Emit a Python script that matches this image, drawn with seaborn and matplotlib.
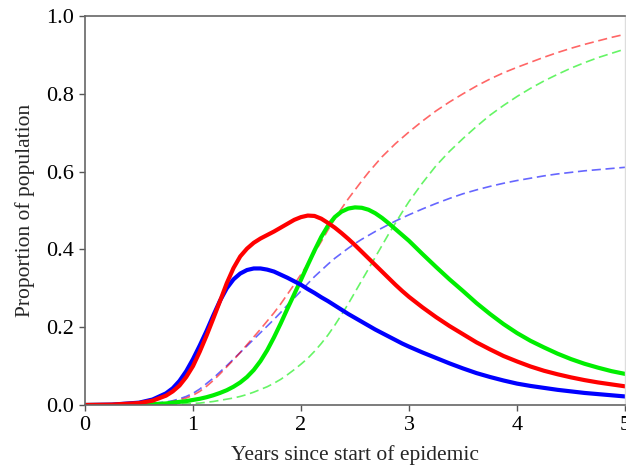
import matplotlib
matplotlib.use("Agg")
import matplotlib.pyplot as plt
import seaborn as sns

years = [0, 0.25, 0.5, 0.625, 0.75, 0.8125, 0.875, 0.9375, 1.0, 1.0625, 1.125, 1.1875,
         1.25, 1.3125, 1.375, 1.4375, 1.5, 1.5625, 1.625, 1.6875, 1.75, 1.8125, 1.875,
         1.9375, 2.0, 2.0625, 2.125, 2.1875, 2.25, 2.3125, 2.375, 2.4375, 2.5, 2.5625,
         2.625, 2.6875, 2.75, 2.8125, 2.875, 2.9375, 3.0, 3.125, 3.25, 3.375, 3.5, 3.625,
         3.75, 3.875, 4.0, 4.125, 4.25, 4.375, 4.5, 4.625, 4.75, 4.875, 5.0]

blue_solid = [0, 0.001, 0.006, 0.014, 0.03, 0.043, 0.062, 0.087, 0.118, 0.153, 0.19, 0.23,
              0.268, 0.30, 0.323, 0.338, 0.347, 0.351, 0.351, 0.348, 0.343, 0.335, 0.327,
              0.318, 0.309, 0.298, 0.288, 0.277, 0.267, 0.256, 0.245, 0.234, 0.224, 0.214,
              0.204, 0.194, 0.185, 0.176, 0.167, 0.158, 0.150, 0.135, 0.121, 0.107, 0.094,
              0.082, 0.072, 0.063, 0.055, 0.049, 0.044, 0.039, 0.035, 0.031, 0.028, 0.025,
              0.022]
red_solid = [0, 0.001, 0.005, 0.011, 0.024, 0.035, 0.05, 0.072, 0.10, 0.137, 0.178, 0.222,
             0.267, 0.313, 0.352, 0.382, 0.402, 0.417, 0.428, 0.437, 0.446, 0.456, 0.466,
             0.476, 0.483, 0.487, 0.486, 0.479, 0.468, 0.456, 0.442, 0.427, 0.411, 0.394,
             0.377, 0.36, 0.343, 0.326, 0.309, 0.293, 0.278, 0.251, 0.226, 0.203, 0.182,
             0.161, 0.143, 0.126, 0.112, 0.099, 0.088, 0.079, 0.071, 0.064, 0.058, 0.053,
             0.048]
green_solid = [0, 0, 0.001, 0.002, 0.004, 0.006, 0.008, 0.010, 0.013, 0.016, 0.02, 0.025,
               0.031, 0.038, 0.047, 0.058, 0.072, 0.09, 0.113, 0.141, 0.174, 0.21, 0.248,
               0.285, 0.322, 0.36, 0.397, 0.432, 0.461, 0.483, 0.497, 0.505, 0.508, 0.507,
               0.502, 0.493, 0.481, 0.467, 0.452, 0.437, 0.422, 0.388, 0.355, 0.323, 0.293,
               0.262, 0.234, 0.208, 0.185, 0.165, 0.148, 0.132, 0.118, 0.106, 0.096, 0.087,
               0.08]
blue_dashed = [0, 0, 0.002, 0.004, 0.008, 0.011, 0.016, 0.022, 0.03, 0.041, 0.055, 0.069,
               0.085, 0.101, 0.118, 0.135, 0.152, 0.169, 0.186, 0.203, 0.22, 0.238, 0.257,
               0.275, 0.293, 0.312, 0.33, 0.346, 0.362, 0.377, 0.39, 0.403, 0.415, 0.426,
               0.436, 0.446, 0.455, 0.464, 0.473, 0.481, 0.489, 0.504, 0.518, 0.531, 0.543,
               0.553, 0.562, 0.570, 0.577, 0.583, 0.589, 0.594, 0.598, 0.602, 0.605, 0.608,
               0.611]
red_dashed = [0, 0, 0.002, 0.003, 0.006, 0.009, 0.013, 0.018, 0.025, 0.035, 0.048, 0.063,
              0.08, 0.098, 0.116, 0.135, 0.155, 0.175, 0.195, 0.216, 0.237, 0.26, 0.285,
              0.31, 0.336, 0.363, 0.391, 0.42, 0.45, 0.478, 0.505, 0.53, 0.553, 0.576,
              0.598, 0.618, 0.638, 0.655, 0.672, 0.687, 0.702, 0.73, 0.756, 0.779, 0.80,
              0.82, 0.838, 0.854, 0.868, 0.881, 0.894, 0.906, 0.917, 0.927, 0.936, 0.945,
              0.953]
green_dashed = [0, 0, 0, 0.001, 0.001, 0.002, 0.002, 0.003, 0.004, 0.005, 0.007, 0.009,
                0.012, 0.015, 0.018, 0.022, 0.027, 0.033, 0.04, 0.047, 0.056, 0.066, 0.078,
                0.091, 0.105, 0.12, 0.138, 0.158, 0.18, 0.205, 0.232, 0.26, 0.29, 0.32,
                0.35, 0.38, 0.41, 0.44, 0.468, 0.496, 0.523, 0.571, 0.615, 0.652, 0.685,
                0.716, 0.745, 0.770, 0.793, 0.814, 0.833, 0.85, 0.866, 0.88, 0.893, 0.904,
                0.915]

x_ticks = [0, 1, 2, 3, 4, 5]
y_ticks = [0.0, 0.2, 0.4, 0.6, 0.8, 1.0]
x_label = "Years since start of epidemic"
y_label = "Proportion of population"

sns.set_style("white")
plt.rcParams["font.family"] = ["Liberation Serif", "DejaVu Serif"]

fig = plt.figure(figsize=(6.26, 4.68), dpi=100)
ax = fig.add_axes([85 / 626, 1 - 405 / 468, 540 / 626, (405 - 16) / 468])

BLUE = "#0000ff"
RED = "#ff0000"
GREEN = "#00ee00"

dashed = [(blue_dashed, BLUE), (red_dashed, RED), (green_dashed, GREEN)]
for vals, col in dashed:
    sns.lineplot(x=years, y=vals, ax=ax, color=col, lw=1.2, alpha=0.6,
                 linestyle=(0, (5.5, 2.8)))

solid = [(green_solid, GREEN), (blue_solid, BLUE), (red_solid, RED)]
for vals, col in solid:
    sns.lineplot(x=years, y=vals, ax=ax, color=col, lw=3.0,
                 solid_capstyle="round", solid_joinstyle="round")

ax.set_xlim(0, 5)
ax.set_ylim(0, 1)
ax.set_xticks(x_ticks)
ax.set_xticklabels([str(t) for t in x_ticks])
ax.set_yticks(y_ticks)
ax.set_yticklabels([f"{t:.1f}" for t in y_ticks])
ax.tick_params(axis="both", direction="out", length=4, width=1, color="#555555",
               labelsize=16, labelcolor="black", pad=4,
               bottom=True, left=True, top=False, right=False)
for side in ["left", "bottom", "top"]:
    ax.spines[side].set_color("#666666")
    ax.spines[side].set_linewidth(1.2)
ax.spines["right"].set_color("#dddddd")
ax.spines["right"].set_linewidth(1.0)

ax.set_xlabel(x_label, fontsize=15.5, labelpad=7)
ax.set_ylabel(y_label, fontsize=15.5, labelpad=8)

fig.savefig("out.png", dpi=100)
